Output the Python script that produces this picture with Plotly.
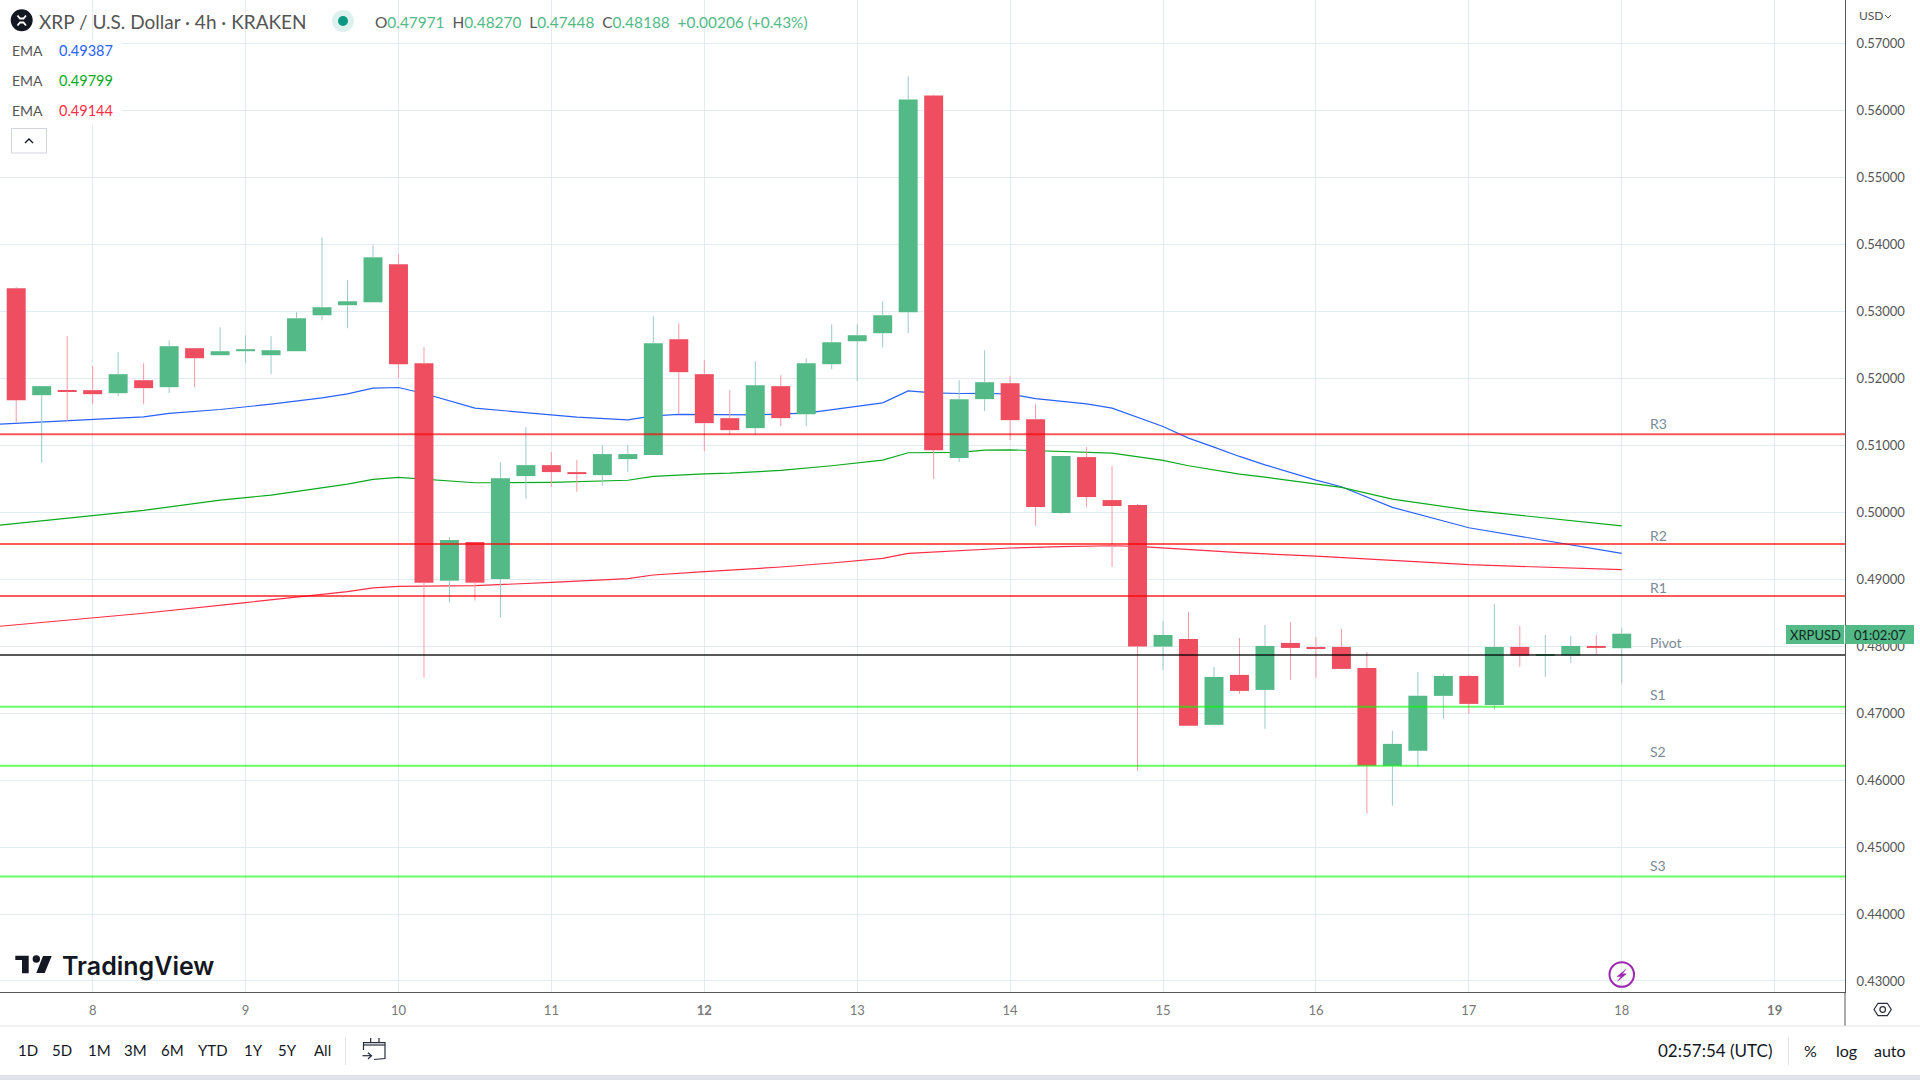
import plotly.graph_objects as go

# 4h candles, bar 0 sits half a day before the 8th
bar_open = [0.53348, 0.51751, 0.51826, 0.51826, 0.51781, 0.51975, 0.51871, 0.52453, 0.52348, 0.52408,
            0.52348, 0.52408, 0.52945, 0.53095, 0.53139, 0.53706, 0.52229, 0.48980, 0.49557, 0.49005,
            0.50542, 0.50706, 0.50602, 0.50557, 0.50796, 0.50856, 0.52587, 0.52065, 0.51408, 0.51259,
            0.51886, 0.51468, 0.52214, 0.52557, 0.52677, 0.52990, 0.56229, 0.50811, 0.51692, 0.51930,
            0.51393, 0.49990, 0.50826, 0.50184, 0.50109, 0.47995, 0.48109, 0.46826, 0.47572, 0.47348,
            0.48050, 0.47975, 0.47990, 0.47677, 0.46214, 0.46438, 0.47259, 0.47557, 0.47124, 0.47990,
            0.47861, 0.47861, 0.48005, 0.47971]
bar_high = [0.53368, 0.51886, 0.52632, 0.52184, 0.52393, 0.52229, 0.52572, 0.52453, 0.52766, 0.52647,
            0.52632, 0.52990, 0.54109, 0.53468, 0.53990, 0.53856, 0.52468, 0.49632, 0.49557, 0.50751,
            0.51274, 0.50900, 0.50781, 0.51005, 0.51005, 0.52930, 0.52826, 0.52274, 0.51826, 0.52259,
            0.52050, 0.52303, 0.52811, 0.52811, 0.53154, 0.56512, 0.56244, 0.51975, 0.52423, 0.52035,
            0.51617, 0.50841, 0.50975, 0.50692, 0.50124, 0.48378, 0.48512, 0.47692, 0.48124, 0.48318,
            0.48363, 0.48139, 0.48259, 0.47915, 0.46736, 0.47617, 0.47587, 0.47572, 0.48632, 0.48303,
            0.48169, 0.48154, 0.48169, 0.48270]
bar_low = [0.51348, 0.50741, 0.51368, 0.51617, 0.51736, 0.51617, 0.51781, 0.51871, 0.52348, 0.52229,
           0.52065, 0.52408, 0.52871, 0.52751, 0.53139, 0.52005, 0.47532, 0.48652, 0.48682, 0.48428,
           0.50204, 0.50383, 0.50308, 0.50398, 0.50602, 0.50856, 0.51468, 0.50915, 0.51154, 0.51154,
           0.51289, 0.51289, 0.52139, 0.51960, 0.52468, 0.52677, 0.50498, 0.50751, 0.51512, 0.51080,
           0.49796, 0.49975, 0.50080, 0.49184, 0.46144, 0.47647, 0.46811, 0.46826, 0.47289, 0.46766,
           0.47498, 0.47527, 0.47662, 0.45502, 0.45617, 0.46199, 0.46915, 0.46990, 0.47050, 0.47692,
           0.47542, 0.47751, 0.47871, 0.47448]
bar_close = [0.51677, 0.51886, 0.51811, 0.51766, 0.52065, 0.51856, 0.52483, 0.52303, 0.52408, 0.52438,
             0.52423, 0.52900, 0.53065, 0.53154, 0.53811, 0.52214, 0.48950, 0.49587, 0.48950, 0.50512,
             0.50706, 0.50602, 0.50572, 0.50871, 0.50871, 0.52527, 0.52095, 0.51333, 0.51229, 0.51900,
             0.51408, 0.52229, 0.52542, 0.52647, 0.52945, 0.56169, 0.50930, 0.51692, 0.51945, 0.51378,
             0.50080, 0.50841, 0.50229, 0.50095, 0.47995, 0.48169, 0.46811, 0.47542, 0.47333, 0.48005,
             0.47975, 0.47960, 0.47662, 0.46214, 0.46542, 0.47259, 0.47557, 0.47139, 0.47990, 0.47861,
             0.47876, 0.48005, 0.47975, 0.48188]

# the EMAs, read at the bars where they bend
blue_idx = [-0.64, 1, 3, 5, 6, 8, 10, 12, 13, 14, 15, 16, 18, 19, 21, 22, 24, 25, 26, 27, 28, 29, 31, 33, 34, 35,
            36, 37, 38, 39, 40, 42, 43, 45, 46, 47, 48, 49, 51, 52, 54, 57, 63]
blue_ema = [0.51318, 0.51348, 0.51383, 0.51428, 0.51478, 0.51537, 0.51617, 0.51711, 0.51771, 0.51856, 0.51866,
            0.51776, 0.51557, 0.51522, 0.51458, 0.51423, 0.51383, 0.51443, 0.51463, 0.51463, 0.51453, 0.51458,
            0.51483, 0.51592, 0.51637, 0.51816, 0.51786, 0.51776, 0.51780, 0.51766, 0.51701, 0.51622, 0.51557,
            0.51284, 0.51110, 0.50975, 0.50836, 0.50711, 0.50483, 0.50383, 0.50075, 0.49771, 0.49387]
green_idx = [-0.64, 3, 5, 8, 10, 13, 14, 15, 18, 19, 21, 24, 25, 27, 28, 30, 32, 34, 35, 37, 38, 39, 41, 43, 45,
             46, 48, 49, 52, 54, 57, 63]
green_ema = [0.49811, 0.49950, 0.50030, 0.50184, 0.50259, 0.50423, 0.50493, 0.50522, 0.50443, 0.50443, 0.50448,
             0.50480, 0.50537, 0.50577, 0.50587, 0.50627, 0.50697, 0.50781, 0.50891, 0.50896, 0.50930, 0.50935,
             0.50915, 0.50886, 0.50776, 0.50697, 0.50572, 0.50527, 0.50373, 0.50199, 0.50035, 0.49799]
red_idx = [-0.64, 3, 5, 9, 10, 13, 14, 15, 18, 19, 21, 24, 25, 27, 30, 32, 34, 35, 37, 39, 41, 43, 44, 46, 48,
           51, 54, 57, 63]
red_ema = [0.48299, 0.48423, 0.48493, 0.48652, 0.48692, 0.48816, 0.48871, 0.48896, 0.48905, 0.48920, 0.48955,
           0.49010, 0.49065, 0.49114, 0.49184, 0.49244, 0.49313, 0.49388, 0.49428, 0.49468, 0.49488, 0.49502,
           0.49492, 0.49448, 0.49398, 0.49348, 0.49279, 0.49219, 0.49144]

pivot_names = ["R3", "R2", "R1", "Pivot", "S1", "S2", "S3"]
pivot_levels = [0.51169, 0.49527, 0.48751, 0.47871, 0.47095, 0.46214, 0.44562]
pivot_label_y = [424, 535, 587, 642, 694, 751, 865]

day_ticks = [8, 9, 10, 11, 12, 13, 14, 15, 16, 17, 18, 19]
day_labels = ["8", "9", "10", "11", "<b>12</b>", "13", "14", "15", "16", "17", "18", "<b>19</b>"]
price_ticks = [0.43, 0.44, 0.45, 0.46, 0.47, 0.48, 0.49, 0.50, 0.51, 0.52, 0.53, 0.54, 0.55, 0.56, 0.57]
range_buttons = ["1D", "5D", "1M", "3M", "6M", "YTD", "1Y", "5Y", "All"]
range_button_x = [28, 62, 99, 135, 172, 213, 253, 287, 322]

GREEN = "#53b987"
RED = "#ee4e5f"
FONT = "Lato"
PLOT_W = 1845
PLOT_H = 992


def bar_day(i):
    return 7.5 + i / 6


# pixel helpers for everything round the chart
def px(x):
    return x / PLOT_W


def py(y):
    return (PLOT_H - y) / PLOT_H


def path(*points, close=False):
    s = "M " + " L ".join(f"{px(x):.5f},{py(y):.5f}" for x, y in points)
    return s + (" Z" if close else "")


def draw(*points, close=False, fill=None, color="#131722", width=1.2):
    fig.add_shape(type="path", path=path(*points, close=close), xref="paper", yref="paper",
                  fillcolor=fill, line=dict(color=color, width=width), layer="above")


def box(x0, y0, x1, y1, fill, color=None, width=0, circle=False):
    fig.add_shape(type="circle" if circle else "rect", x0=px(x0), x1=px(x1), y0=py(y0), y1=py(y1),
                  xref="paper", yref="paper", fillcolor=fill, line=dict(color=color, width=width), layer="above")


def label(x, y, text, size=13, color="#555555", anchor="left", font=FONT, bg=None, weight=None):
    fig.add_annotation(x=px(x), y=py(y), xref="paper", yref="paper", text=text, showarrow=False,
                       xanchor=anchor, yanchor="middle", borderpad=0, bgcolor=bg,
                       font=dict(family=font, size=size, color=color, weight=weight))


fig = go.Figure()

for idx, vals, color in [(blue_idx, blue_ema, "#2962ff"), (green_idx, green_ema, "#0aaa1e"), (red_idx, red_ema, "#ff2d46")]:
    fig.add_trace(go.Scatter(x=[bar_day(i) for i in idx], y=vals, mode="lines", line=dict(color=color, width=1.2),
                             hoverinfo="skip", showlegend=False))

# candles go on an overlay so that they cover the EMAs
for up, body, wick in [(True, GREEN, "#9cc9c9"), (False, RED, "#f799a6")]:
    rows = [i for i in range(len(bar_open)) if (bar_close[i] >= bar_open[i]) == up]
    fig.add_trace(go.Bar(x=[bar_day(i) for i in rows],
                         y=[abs(bar_close[i] - bar_open[i]) for i in rows],
                         base=[min(bar_close[i], bar_open[i]) for i in rows],
                         width=0.124, marker=dict(color=body, line=dict(width=0)),
                         xaxis="x2", yaxis="y2", showlegend=False))
    wx, wy = [], []
    for i in rows:
        d = bar_day(i)
        wx += [d, d, None, d, d, None]
        wy += [bar_high[i], max(bar_open[i], bar_close[i]), None, min(bar_open[i], bar_close[i]), bar_low[i], None]
    fig.add_trace(go.Scatter(x=wx, y=wy, mode="lines", line=dict(color=wick, width=1), xaxis="x2", yaxis="y2",
                             hoverinfo="skip", showlegend=False))

for name, level, ly in zip(pivot_names, pivot_levels, pivot_label_y):
    if name[0] == "R":
        c = "rgba(255,0,0,0.65)"
    elif name[0] == "S":
        c = "rgba(0,255,0,0.6)"
    else:
        c = "rgba(0,0,0,0.65)"
    fig.add_hline(y=level, line=dict(color=c, width=2), layer="above")
    label(1649, ly, name, size=14, color="#7b8a99")

fig.update_layout(
    width=1920, height=1080, margin=dict(l=0, r=75, t=0, b=88), paper_bgcolor="white", plot_bgcolor="white",
    barmode="overlay", showlegend=False, font=dict(family=FONT),
    xaxis=dict(range=[7.394, 19.460], tickvals=day_ticks, ticktext=day_labels, showgrid=True, gridcolor="#e1ecf2",
               gridwidth=1, zeroline=False, showline=True, linecolor="#555555", linewidth=1, ticks="",
               tickfont=dict(family=FONT, size=13, color="#787878"), ticklabelstandoff=6),
    yaxis=dict(range=[0.42835, 0.57655], side="right", tickvals=price_ticks, tickformat=".5f", showgrid=True,
               gridcolor="#e1ecf2", gridwidth=1, zeroline=False, showline=True, linecolor="#555555", linewidth=1,
               ticks="", tickfont=dict(family=FONT, size=13, color="#555555"), ticklabelstandoff=8),
    xaxis2=dict(overlaying="x", matches="x", visible=False),
    yaxis2=dict(overlaying="y", matches="y", visible=False),
)

# header
box(10.7, 9.3, 32.7, 31.3, "#131722", circle=True)
draw((17.5, 15.5), (20, 18.5), (23.5, 18.5), (26, 15.5), color="white", width=1.8)
draw((17.5, 25.5), (20, 22.5), (23.5, 22.5), (26, 25.5), color="white", width=1.8)
label(38, 21.5, "XRP / U.S. Dollar · 4h · KRAKEN", size=19, color="#555555")
box(332, 10, 354, 32, "#dff1ee", circle=True)
box(338, 16, 348, 26, "#089981", circle=True)
ohlc = "O<span style='color:{g}'>0.47971</span>  H<span style='color:{g}'>0.48270</span>  L<span style='color:{g}'>0.47448</span>  C<span style='color:{g}'>0.48188  +0.00206 (+0.43%)</span>".format(g=GREEN)
label(374, 22, ohlc, size=15.4, color="#555555")

# indicator legend sits on a white panel that hides the grid
box(0, 41, 122, 125, "white")
for y, val, c in [(51, "0.49387", "#2962ff"), (80.5, "0.49799", "#0aaa1e"), (110.5, "0.49144", "#ff2d46")]:
    label(11, y, "EMA", size=14, color="#555555")
    label(57.5, y, val, size=14.5, color=c)

# collapse button
fig.add_shape(type="rect", x0=px(11.5), x1=px(46.5), y0=py(128.5), y1=py(153), xref="paper", yref="paper",
              fillcolor="white", line=dict(color="#d1d4dc", width=1), layer="above")
draw((25, 143), (29, 139), (33, 143), width=1.4)

# price tag
box(1786, 625, 1844, 644, GREEN)
box(1845, 625, 1914, 644, GREEN)
label(1815, 635, "XRPUSD", size=13, color="#10261c", anchor="center")
label(1879.5, 635, "01:02:07", size=13, color="#10261c", anchor="center")
label(1858, 16, "USD", size=12, color="#555555")
draw((1885, 15), (1888, 18), (1891, 15), color="#555555", width=1)

# watermark
draw((15.3, 955.7), (28.7, 955.7), (28.7, 973.3), (22, 973.3), (22, 960), (15.3, 960), close=True, fill="#131722", width=0)
box(32.6, 955.3, 40, 962.7, "#131722", circle=True)
draw((43, 956), (51.7, 956), (44.7, 973), (36.3, 973), close=True, fill="#131722", width=0)
label(61, 965.5, "TradingView", size=25, color="#131722", font="Inter", weight=600)

# lightning badge
fig.add_shape(type="circle", x0=px(1609.5), x1=px(1634), y0=py(962.2), y1=py(986.8), xref="paper", yref="paper",
              line=dict(color="#9c27b0", width=2), layer="above")
draw((1625.7, 969.5), (1617, 976.5), (1621, 976.5), (1617.7, 981.2), (1626.3, 973.8), (1622.3, 973.8), close=True,
     fill="#9c27b0", color="#9c27b0", width=0.5)

# toolbar
draw((1845, 992), (1845, 1026), color="#555555", width=1)
draw((0, 1026), (1920, 1026), color="#e0e3eb", width=1)
box(0, 1075, 1920, 1080, "#e0e3eb")
for text, x in zip(range_buttons, range_button_x):
    label(x, 1050, text, size=15, color="#131722", anchor="center")
draw((345.5, 1037), (345.5, 1065), color="#e0e3eb", width=1)
draw((363.5, 1050), (363.5, 1042.7), (385, 1042.7), (385, 1058.5), (374, 1059.5), color="#2a2e39", width=1.2)
draw((363.5, 1045), (385, 1045), color="#2a2e39", width=1.2)
draw((370.7, 1038), (370.7, 1042.7), color="#2a2e39", width=1.2)
draw((379, 1038), (379, 1042.7), color="#2a2e39", width=1.2)
draw((362.5, 1055.7), (371.5, 1055.7), color="#2a2e39", width=1.2)
draw((368, 1052.7), (371.5, 1055.7), (368, 1059), color="#2a2e39", width=1.2)
label(1657, 1050, "02:57:54 (UTC)", size=17, color="#131722")
draw((1788.5, 1037), (1788.5, 1065), color="#e0e3eb", width=1)
label(1810, 1050, "%", size=16, color="#131722", anchor="center")
label(1846, 1050, "log", size=16, color="#131722", anchor="center")
label(1890, 1050, "auto", size=16, color="#131722", anchor="center")

# settings icon
draw((1874, 1009.5), (1878, 1003.3), (1887.3, 1003.3), (1891.3, 1009.5), (1887.3, 1015.7), (1878, 1015.7),
     close=True, color="#2a2e39", width=1.2)
fig.add_shape(type="circle", x0=px(1879.9), x1=px(1885.5), y0=py(1006.7), y1=py(1012.3), xref="paper", yref="paper",
              line=dict(color="#2a2e39", width=1.2), layer="above")

fig.write_html("out.html", config=dict(displayModeBar=False),
               post_script="document.body.style.margin='0';")
